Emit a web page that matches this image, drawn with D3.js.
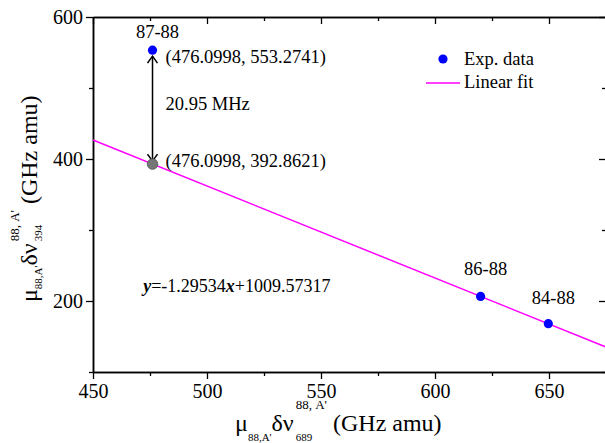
<!DOCTYPE html>
<html>
<head>
<meta charset="utf-8">
<script src="https://cdn.jsdelivr.net/npm/d3@7"></script>
</head>
<body style="margin:0">
<div id="chart"></div>
<script>
// experimental points (isotope pairs)
var pairLabels = ["87-88", "86-88", "84-88"];
var expX = [476.0998, 620.0, 649.7];
var expY = [553.2741, 206.5, 168.0];

// point projected onto the fit
var projX = [476.0998];
var projY = [392.8621];

// linear fit y = a*x + b
var fitSlope = -1.29534;
var fitIntercept = 1009.57317;

var shiftLabel = "20.95 MHz";
var legendLabels = ["Exp. data", "Linear fit"];

var xMajorTicks = [450, 500, 550, 600, 650];
var xMinorTicks = [475, 525, 575, 625, 675];
var yMajorTicks = [200, 400, 600];
var yMinorTicks = [100, 300, 500];

var FONT = "'Liberation Serif'";

var svg = d3.select("#chart").append("svg")
    .attr("width", 605).attr("height", 443);

var margin = { top: 17, left: 93 };
var width = 513;
var height = 355;

var x = d3.scaleLinear().domain([450, 675]).range([0, width]);
var y = d3.scaleLinear().domain([100, 600]).range([height, 0]);

var g = svg.append("g").attr("transform", "translate(" + margin.left + "," + margin.top + ")");

function fit(v) { return fitSlope * v + fitIntercept; }

function txt(sel, size) {
    return sel.style("font-family", FONT).style("font-size", size + "px").attr("fill", "#000");
}

// axes: major + minor ticks on all four sides
function addAxis(axis, transform) {
    var a = g.append("g").attr("transform", transform || null).call(axis);
    a.attr("font-family", null).attr("font-size", null);
    a.select(".domain").attr("stroke-width", 1.5);
    a.selectAll(".tick line").attr("stroke-width", 1.3);
    txt(a.selectAll(".tick text"), 20);
    return a;
}

addAxis(d3.axisBottom(x).tickValues(xMajorTicks).tickSize(7).tickPadding(5).tickSizeOuter(0), "translate(0," + height + ")");
addAxis(d3.axisBottom(x).tickValues(xMinorTicks).tickSize(4).tickFormat("").tickSizeOuter(0), "translate(0," + height + ")");
addAxis(d3.axisTop(x).tickValues(xMajorTicks).tickSize(-7).tickFormat("").tickSizeOuter(0));
addAxis(d3.axisTop(x).tickValues(xMinorTicks).tickSize(-4).tickFormat("").tickSizeOuter(0));
addAxis(d3.axisLeft(y).tickValues(yMajorTicks).tickSize(7).tickPadding(3).tickSizeOuter(0));
addAxis(d3.axisLeft(y).tickValues(yMinorTicks).tickSize(4).tickFormat("").tickSizeOuter(0));
addAxis(d3.axisRight(y).tickValues(yMajorTicks).tickSize(-7).tickFormat("").tickSizeOuter(0), "translate(" + width + ",0)");
addAxis(d3.axisRight(y).tickValues(yMinorTicks).tickSize(-4).tickFormat("").tickSizeOuter(0), "translate(" + width + ",0)");

// fit line
var xd = x.domain();
g.append("line")
    .attr("x1", x(xd[0])).attr("y1", y(fit(xd[0])))
    .attr("x2", x(xd[1])).attr("y2", y(fit(xd[1])))
    .attr("stroke", "#ff00ff")
    .attr("stroke-width", 1.5);

// double arrow between measured and projected point
svg.append("defs").append("marker")
    .attr("id", "openArrow")
    .attr("viewBox", "-1 -6 9 12")
    .attr("refX", 7).attr("refY", 0)
    .attr("markerUnits", "userSpaceOnUse")
    .attr("markerWidth", 9).attr("markerHeight", 12)
    .attr("orient", "auto-start-reverse")
  .append("path")
    .attr("d", "M0,-5L7,0L0,5")
    .attr("fill", "none")
    .attr("stroke", "#000")
    .attr("stroke-width", 1.5);

g.append("line")
    .attr("x1", x(expX[0])).attr("y1", y(expY[0]) + 6)
    .attr("x2", x(projX[0])).attr("y2", y(projY[0]) - 3)
    .attr("stroke", "#000")
    .attr("stroke-width", 1.5)
    .attr("marker-start", "url(#openArrow)")
    .attr("marker-end", "url(#openArrow)");

// points
var expData = pairLabels.map(function (l, i) { return { label: l, x: expX[i], y: expY[i] }; });

g.selectAll(".proj")
    .data(projX)
    .enter().append("circle")
    .attr("class", "proj")
    .attr("cx", function (d) { return x(d); })
    .attr("cy", function (d, i) { return y(projY[i]); })
    .attr("r", 5.3)
    .attr("fill", "#767676")
    .attr("stroke", "#555")
    .attr("stroke-width", 0.8);

g.selectAll(".exp")
    .data(expData)
    .enter().append("circle")
    .attr("class", "exp")
    .attr("cx", function (d) { return x(d.x); })
    .attr("cy", function (d) { return y(d.y); })
    .attr("r", 4.6)
    .attr("fill", "#0000ff");

var labelDy = [-12, -21, -20];
txt(g.selectAll(".pair")
    .data(expData)
    .enter().append("text")
    .attr("class", "pair")
    .attr("x", function (d) { return x(d.x) + 5; })
    .attr("y", function (d, i) { return y(d.y) + labelDy[i]; })
    .attr("text-anchor", "middle")
    .text(function (d) { return d.label; }), 18.5);

// coordinate annotations
txt(g.append("text")
    .attr("x", x(expX[0]) + 13)
    .attr("y", y(expY[0]) + 13)
    .text("(" + expX[0].toFixed(4) + ", " + expY[0].toFixed(4) + ")"), 18.5);

txt(g.append("text")
    .attr("x", x(projX[0]) + 13)
    .attr("y", y(projY[0]) + 3)
    .text("(" + projX[0].toFixed(4) + ", " + projY[0].toFixed(4) + ")"), 18.5);

txt(g.append("text")
    .attr("x", x(expX[0]) + 13)
    .attr("y", (y(expY[0]) + y(projY[0])) / 2 + 3)
    .text(shiftLabel), 18.5);

// fit equation
var eq = txt(g.append("text")
    .attr("x", x(472))
    .attr("y", y(212.5)), 18);
eq.append("tspan").style("font-weight", "bold").style("font-style", "italic").text("y");
eq.append("tspan").text("=" + fitSlope);
eq.append("tspan").style("font-weight", "bold").style("font-style", "italic").text("x");
eq.append("tspan").text("+" + fitIntercept);

// legend
var legend = svg.append("g").attr("transform", "translate(426,59)");
legend.append("circle").attr("cx", 17).attr("cy", 0).attr("r", 4.6).attr("fill", "#0000ff");
legend.append("line").attr("x1", 0).attr("x2", 34).attr("y1", 24).attr("y2", 24)
    .attr("stroke", "#ff00ff").attr("stroke-width", 1.5);
txt(legend.selectAll(".leg")
    .data(legendLabels)
    .enter().append("text")
    .attr("x", 38)
    .attr("y", function (d, i) { return i * 23 + 6; })
    .text(function (d) { return d; }), 18.5);

// axis titles: mu_{88,A'} dnu^{88, A'}_{line} (GHz amu)
// the stacked sub goes back by the width of the superscript (Times metrics)
function axisTitle(parent, line, supDy, subDy) {
    var supSize = 13, subSize = 11;
    var supW = 2.4 * supSize, lineW = 1.5 * subSize;
    var t = txt(parent.append("text"), 24);
    t.append("tspan").text("\u03bc");
    t.append("tspan").attr("dy", subDy).style("font-size", subSize + "px").text("88,A'");
    t.append("tspan").attr("dy", -subDy).text("\u03b4\u03bd");
    t.append("tspan").attr("dx", 2).attr("dy", supDy).style("font-size", supSize + "px").text("88, A'");
    t.append("tspan").attr("dx", -supW).attr("dy", subDy - supDy).style("font-size", subSize + "px").text(line);
    t.append("tspan").attr("dx", supW - lineW).attr("dy", -subDy).text(" (GHz amu)");
    return t;
}

axisTitle(svg.append("g").attr("transform", "translate(235,431)"), "689", -22, 10);
axisTitle(svg.append("g").attr("transform", "translate(37,302) rotate(-90)"), "394", -18, 5);
</script>
</body>
</html>
